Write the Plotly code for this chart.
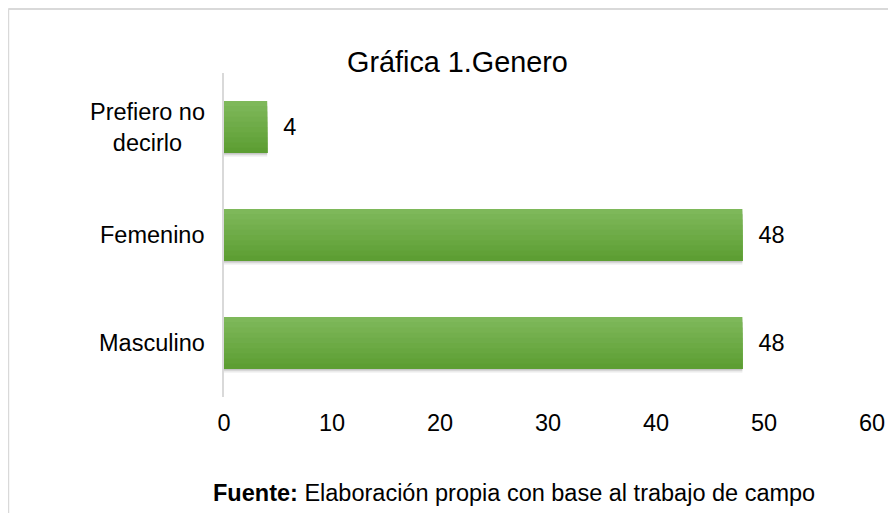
import plotly.graph_objects as go

# ---- data ----
categories = ["Masculino", "Femenino", "Prefiero no decirlo"]
category_labels = ["Masculino", "Femenino", "Prefiero no<br>decirlo"]
values = [48, 48, 4]
x_ticks = [0, 10, 20, 30, 40, 50, 60]

title_text = "Gráfica 1.Genero"
source_text = "<b>Fuente:</b> Elaboración propia con base al trabajo de campo"

FONT = "Arial, 'Liberation Sans', sans-serif"
FS = 23.5
BAR_W = 0.48

fig = go.Figure()

# soft drop shadow under each bar
for off, alpha in [(-0.275, 0.06), (-0.262, 0.08), (-0.252, 0.10)]:
    fig.add_trace(go.Bar(
        y=categories, x=values, orientation="h",
        width=BAR_W, offset=off,
        marker=dict(color=f"rgba(0,0,0,{alpha})", line=dict(width=0)),
        hoverinfo="skip", showlegend=False,
    ))

# vertical gradient (lighter top, darker bottom) built from stacked layers
n = 10
top = (126, 184, 90)
bot = (93, 158, 51)
for i in range(n):
    t = i / (n - 1)
    c = tuple(round(top[k] + (bot[k] - top[k]) * t) for k in range(3))
    w = BAR_W * (1 - i / n)
    fig.add_trace(go.Bar(
        y=categories, x=values, orientation="h",
        width=w, offset=-BAR_W / 2,
        marker=dict(color=f"rgb{c}", line=dict(width=0)),
        text=[f"  {v}" for v in values] if i == 0 else None,
        textposition="outside" if i == 0 else None,
        textfont=dict(family=FONT, size=FS, color="#000000"),
        cliponaxis=False,
        hoverinfo="skip", showlegend=False,
    ))

annotations = []
for cat, lab in zip(categories, category_labels):
    annotations.append(dict(
        x=0, xref="paper", y=cat, yref="y",
        text=lab, showarrow=False, xanchor="right", yanchor="middle",
        align="center", xshift=-17,
        font=dict(family=FONT, size=FS, color="#000000"),
    ))

annotations.append(dict(
    x=0.3596, xref="paper", y=1.034, yref="paper",
    text=title_text, showarrow=False, xanchor="center", yanchor="middle",
    font=dict(family=FONT, size=28.8, color="#000000"),
))
annotations.append(dict(
    x=-0.0205, xref="paper", y=-0.296, yref="paper",
    text=source_text, showarrow=False, xanchor="left", yanchor="middle",
    font=dict(family=FONT, size=FS, color="#000000"),
))

shapes = [
    dict(type="line", xref="paper", yref="paper", x0=-0.333, x1=1.1, y0=1.1975, y1=1.1975,
         line=dict(color="#d9d9d9", width=2)),
    dict(type="line", xref="paper", yref="paper", x0=-0.333, x1=-0.333, y0=1.1975, y1=-0.4,
         line=dict(color="#d9d9d9", width=2)),
]

fig.update_layout(
    width=888, height=505,
    margin=dict(l=216, r=24, t=65, b=116),
    paper_bgcolor="white", plot_bgcolor="white",
    barmode="overlay",
    showlegend=False,
    annotations=annotations,
    shapes=shapes,
    font=dict(family=FONT, size=FS, color="#000000"),
    xaxis=dict(
        range=[0, 60], tickvals=x_ticks, ticktext=[str(v) for v in x_ticks],
        showgrid=False, zeroline=False, showline=False,
        ticks="outside", ticklen=5, tickcolor="rgba(0,0,0,0)",
        tickfont=dict(family=FONT, size=FS, color="#000000"),
        fixedrange=True,
    ),
    yaxis=dict(
        categoryorder="array", categoryarray=categories,
        showticklabels=False, showgrid=False, zeroline=False,
        showline=True, linecolor="#d9d9d9", linewidth=2,
        ticks="", fixedrange=True,
    ),
)

fig.write_html("out.html")
